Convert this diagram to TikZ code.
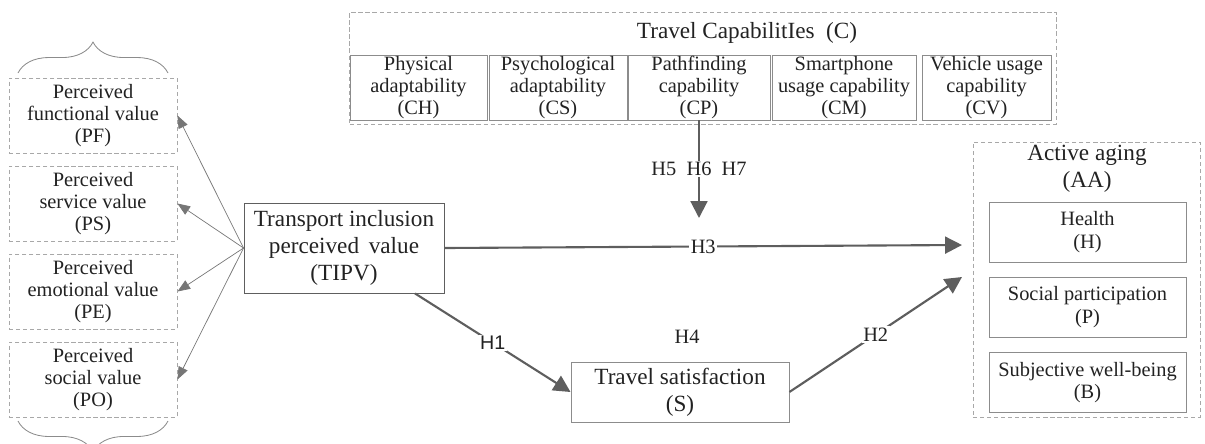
\documentclass[tikz,border=0pt]{standalone}
\usepackage{fontspec}
\setmainfont{Liberation Serif}
\setsansfont{Liberation Sans}
\usepackage{tikz}
\definecolor{ink}{HTML}{222222}
\definecolor{edgegray}{HTML}{8C8C8C}
\definecolor{dashgray}{HTML}{A8A8A8}
\definecolor{arrowgray}{HTML}{5E5E5E}
\usetikzlibrary{
  arrows.meta,
  calc,
  decorations.pathreplacing
}
\tikzset{
  every node/.style={text=ink, font=\fontsize{14.5}{15.8}\selectfont},
  box/.style={
    draw=edgegray,
    line width=0.6pt,
    align=center,
    inner sep=0pt
  },
  dashbox/.style={box, draw=dashgray, dash pattern=on 3pt off 2pt},
  bigbox/.style={box, font=\fontsize{16.5}{19}\selectfont},
  hyp/.style={-{Triangle[length=12pt,width=12pt]}, line width=1.5pt, draw=arrowgray},
  facet/.style={-{Triangle[length=9pt,width=7pt]}, line width=0.5pt, draw=arrowgray!85},
  hlabel/.style={fill=white, inner sep=1pt},
  curly/.style={draw=edgegray, line width=0.6pt, decorate, decoration={brace, amplitude=22pt}}
}

\begin{document}
\begin{tikzpicture}[x=0.025cm, y=-0.025cm]
  \useasboundingbox (0,0) rectangle (1205,443);

  % perceived value facets
  \node[dashbox, minimum width=4.2cm, minimum height=1.875cm] (PF) at (93,115.5) {Perceived\\functional value\\(PF)};
  \node[dashbox, minimum width=4.2cm, minimum height=1.875cm] (PS) at (93,203.5) {Perceived\\service value\\(PS)};
  \node[dashbox, minimum width=4.2cm, minimum height=1.875cm] (PE) at (93,291.5) {Perceived\\emotional value\\(PE)};
  \node[dashbox, minimum width=4.2cm, minimum height=1.875cm] (PO) at (93,379.5) {Perceived\\social value\\(PO)};
  \draw[curly] (18,73) -- (168,73);
  \draw[curly] (168,421) -- (18,421);

  \node[bigbox, draw=arrowgray, minimum width=5cm, minimum height=2.25cm] (TIPV) at (344,248) {Transport inclusion\\perceived\ \,value\\(TIPV)};
  \foreach \v in {PF,PS,PE,PO}
    \draw[facet] (TIPV.west) -- (\v.east);

  % travel capabilities
  \node[dashbox, minimum width=17.65cm, minimum height=2.8cm] (C) at (703,68) {};
  \node[font=\fontsize{16.5}{19}\selectfont] (Ctitle) at (747,33) {Travel CapabilitIes\ \ (C)};
  \node[box, minimum width=3.425cm, minimum height=1.625cm] (CH) at (418.5,87.5) {Physical\\adaptability\\(CH)};
  \node[box, minimum width=3.45cm, minimum height=1.625cm] (CS) at (558,87.5) {Psychological\\adaptability\\(CS)};
  \node[box, minimum width=3.55cm, minimum height=1.625cm] (CP) at (699,87.5) {Pathfinding\\capability\\(CP)};
  \node[box, minimum width=3.6cm, minimum height=1.625cm] (CM) at (844,87.5) {Smartphone\\usage capability\\(CM)};
  \node[box, minimum width=3.225cm, minimum height=1.625cm] (CV) at (986.5,87.5) {Vehicle usage\\capability\\(CV)};

  % active aging
  \node[dashbox, minimum width=5.675cm, minimum height=6.875cm] (AA) at (1086.5,279.5) {};
  \node[font=\fontsize{16.5}{19}\selectfont, align=center] (AAtitle) at (1087,169) {Active aging\\(AA)};
  \node[box, minimum width=4.925cm, minimum height=1.5cm] (H) at (1087.5,232) {Health\\(H)};
  \node[box, minimum width=4.925cm, minimum height=1.5cm] (P) at (1087.5,307) {Social participation\\(P)};
  \node[box, minimum width=4.925cm, minimum height=1.5cm] (B) at (1087.5,382.5) {Subjective well-being\\(B)};
  \coordinate (AAtop) at (962,245);
  \coordinate (AAlow) at (962,277);

  \node[bigbox, minimum width=5.45cm, minimum height=1.5cm] (S) at (680,392) {Travel satisfaction\\(S)};
  \coordinate (CPin) at (699,218);

  % hypotheses
  \draw[hyp] (CP.south) -- node[hlabel] {H5\ \ H6\ \ H7} (CPin);
  \draw[hyp] (TIPV.east) -- node[hlabel] {H3} (AAtop);
  \draw[hyp] ($(TIPV.south)+(71,0)$) -- node[hlabel, font=\fontsize{14}{15}\sffamily] {H1} (S.west);
  \draw[hyp] (S.east) -- node[hlabel] {H2} (AAlow);
  \node (H4) at (687,337) {H4};
\end{tikzpicture}
\end{document}
